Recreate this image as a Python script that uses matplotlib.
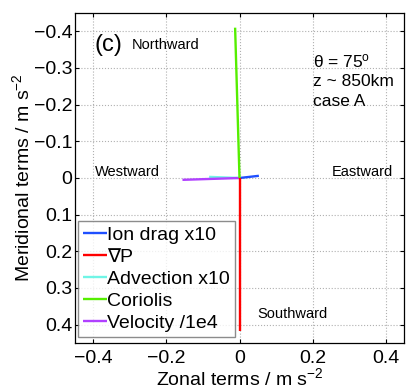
import matplotlib
matplotlib.use("Agg")
import matplotlib.pyplot as plt
import numpy as np

plt.rcParams['font.family'] = ['Liberation Sans', 'DejaVu Sans']
plt.rcParams['mathtext.fontset'] = 'custom'
plt.rcParams['mathtext.rm'] = 'Liberation Sans'
plt.rcParams['mathtext.it'] = 'Liberation Sans'

labels = ["Ion drag x10", "\u2207P", "Advection x10", "Coriolis", "Velocity /1e4"]
zonal = [0.053, 0.0, -0.083, -0.012, -0.156]
meridional = [-0.006, 0.418, -0.003, -0.41, 0.005]
colors = ["#1f4fff", "#ff0000", "#70f5e6", "#55ee00", "#b040ff"]

ticks = [-0.4, -0.2, 0, 0.2, 0.4]
yticks = [-0.4, -0.3, -0.2, -0.1, 0, 0.1, 0.2, 0.3, 0.4]

fig = plt.figure(figsize=(4.11, 3.92), dpi=100)
ax = fig.add_axes([75/411, 1 - 343/392, 329/411, 330/392])

handles = {}
for i in [2, 4, 0, 3, 1]:
    h, = ax.plot([0, zonal[i]], [0, meridional[i]], color=colors[i], lw=1.7,
                 solid_capstyle='butt', label=labels[i])
    handles[i] = h

ax.set_xlim(-0.45, 0.45)
ax.set_ylim(0.45, -0.45)
ax.set_xticks(ticks)
ax.set_xticklabels(["\u22120.4", "\u22120.2", "0", "0.2", "0.4"])
ax.set_yticks(yticks)
ax.set_yticklabels(["\u22120.4", "\u22120.3", "\u22120.2", "\u22120.1", "0", "0.1", "0.2", "0.3", "0.4"])
ax.tick_params(direction='in', top=True, right=True, labelsize=14, length=3, pad=2)
ax.tick_params(axis='x', pad=5)
ax.grid(True, linestyle=':', color='#b0b0b0', lw=0.8)
ax.set_axisbelow(True)
for s in ax.spines.values():
    s.set_linewidth(0.9)

ax.set_xlabel(r"Zonal terms / m s$^{-2}$", fontsize=14, labelpad=0)
ax.set_ylabel(r"Meridional terms / m s$^{-2}$", fontsize=14, labelpad=0)

ax.text(-0.358, -0.363, "(c)", fontsize=17, va='center', ha='center')
ax.text(-0.296, -0.363, "Northward", fontsize=10.5, va='center')
ax.text(0.2, -0.317, "\u03b8 = 75$^{\\rm o}$", fontsize=12.5, va='center')
ax.text(0.2, -0.262, "z ~ 850km", fontsize=12.5, va='center')
ax.text(0.2, -0.21, "case A", fontsize=12.5, va='center')
ax.text(-0.395, -0.016, "Westward", fontsize=10.5, va='center')
ax.text(0.253, -0.016, "Eastward", fontsize=10.5, va='center')
ax.text(0.05, 0.37, "Southward", fontsize=10.5, va='center')

leg = ax.legend([handles[i] for i in range(5)], labels, loc='lower left',
                fontsize=14, frameon=True, fancybox=False, handlelength=1.2,
                handletextpad=0.0, labelspacing=0.22, borderpad=0.28,
                borderaxespad=0.0, bbox_to_anchor=(3/329, 6/330))
leg.get_frame().set_edgecolor('#707070')
leg.get_frame().set_linewidth(1.0)

fig.savefig("out.png", dpi=100)
